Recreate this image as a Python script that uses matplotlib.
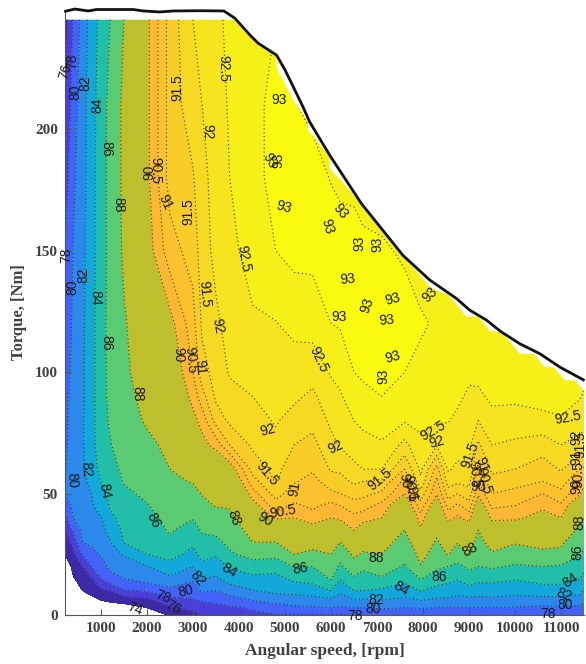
import numpy as np
import matplotlib
matplotlib.use('Agg')
import matplotlib.pyplot as plt
from matplotlib.patches import Polygon

### efficiency map values, one list per speed
torque_rows = [0, 3, 6, 10, 15, 20, 25, 30, 35, 40, 45, 50, 55, 60, 70, 80, 90, 100, 120, 150, 180, 210, 245]
speed_cols = [220, 400, 600, 800, 1000, 1200, 1500, 2000, 2500, 3000, 3200, 3500, 3800, 4300, 4800, 5200, 5600,
              6000, 6200, 6500, 6700, 7100, 7600, 7950, 8300, 8550, 8750, 9000, 9200, 9500, 10000, 10600, 11000,
              11400, 11500]
eff_by_speed = [
    [60, 62, 64, 66, 69, 72, 74, 75, 76, 77.5, 79, 80, 80, 79.9, 79.7, 79.5, 79.3, 79, 78.5, 78, 77, 76, 75],
    [62, 64, 67, 71, 73.8, 74.8, 75.5, 76.7, 78.5, 80, 80.4, 80.6, 80.7, 80.8, 80.8, 80.8, 80.8, 80.6, 80.4, 80.1, 79.6, 79, 78.2],
    [64, 67, 71, 74, 75, 75.9, 78.3, 80, 80.5, 80.9, 81.2, 81.4, 81.6, 81.7, 81.8, 81.8, 81.7, 81.7, 81.6, 81.5, 81.3, 81.2, 80.8],
    [66, 70, 73, 75, 76, 78, 79.4, 80.4, 81, 81.4, 81.8, 82, 82.5, 83, 83.3, 83.3, 83.3, 83.3, 83.3, 83.3, 83.2, 83.2, 83],
    [68, 71, 74, 75.5, 78, 79.2, 80.2, 81, 81.4, 81.9, 82.8, 83.3, 84, 84.6, 85.2, 85.3, 85.3, 85.3, 85.3, 85.2, 85.2, 85, 84.6],
    [70, 72.5, 74.5, 76, 79.4, 80.4, 81.1, 81.9, 82.6, 83.5, 84.2, 84.6, 85, 85.3, 85.9, 86.2, 86.4, 86.5, 86.6, 86.5, 86.6, 86.6, 86],
    [71, 73, 74.8, 77.8, 80, 81, 82.2, 84.1, 84.4, 84.8, 85.2, 85.7, 86.1, 86.4, 86.9, 87.2, 87.4, 87.6, 87.8, 88.3, 88.4, 88.4, 88],
    [72, 74, 75.4, 78.2, 81, 81.9, 84, 84.5, 85, 85.5, 85.9, 86.3, 86.6, 87, 87.6, 88.2, 88.6, 89, 89.4, 89.7, 89.85, 89.85, 89.85],
    [74.3, 75.8, 77.2, 79.4, 81.6, 83.3, 84.7, 85.7, 86.2, 86.5, 86.8, 87.2, 87.7, 88, 88.4, 88.8, 89.1, 89.4, 89.8, 90.8, 91.2, 91.2, 91.2],
    [75.3, 76.6, 77.8, 79, 80.3, 82, 83.4, 84.4, 85.3, 86.1, 86.8, 87.5, 88.1, 88.4, 89, 89.8, 90.2, 90.5, 90.8, 91.2, 91.45, 91.8, 92],
    [76, 76.8, 78.2, 80.3, 82.1, 83.5, 84.6, 85.5, 86.2, 86.8, 87.5, 88.1, 88.4, 88.8, 89.8, 90.2, 90.8, 91.3, 91.6, 91.75, 91.85, 92, 92.2],
    [76.4, 77.4, 78.5, 80, 81.7, 83, 84.2, 85.5, 86.5, 87.3, 88.1, 88.4, 88.7, 89.2, 90.2, 91.2, 91.6, 91.7, 91.9, 92.15, 92.2, 92.3, 92.4],
    [77, 77.7, 79, 81, 82.8, 84.2, 85.7, 86.5, 87.1, 87.7, 88.1, 88.6, 89.1, 89.6, 91, 91.6, 91.85, 92.05, 92.2, 92.4, 92.5, 92.55, 92.6],
    [77.7, 78.2, 80, 81.9, 83.5, 85.2, 86.7, 88, 88.6, 89.1, 89.7, 90.3, 90.8, 91.2, 91.6, 91.8, 92, 92.2, 92.45, 92.65, 92.9, 92.9, 92.8],
    [77.9, 79, 80.8, 82.5, 83.4, 84.8, 86.6, 88, 89.2, 90.1, 90.8, 91.2, 91.55, 91.65, 91.85, 92.05, 92.2, 92.3, 92.48, 93, 93.1, 93.1, 93],
    [77.9, 79.6, 81, 82.7, 84.5, 86.1, 88, 88.7, 89.3, 90, 90.4, 90.75, 91.05, 91.2, 91.5, 91.8, 92.1, 92.25, 92.65, 93.15, 93.1, 93.02, 92.9],
    [77.9, 79.8, 81.1, 83, 84.8, 86, 87.5, 88.8, 89.7, 90.3, 90.6, 90.75, 90.85, 91.05, 91.35, 91.65, 91.9, 92.2, 92.7, 93.15, 93.15, 92.9, 92.9],
    [77.9, 80, 81.5, 84, 86.2, 87, 88, 88.7, 89.3, 90, 90.35, 90.9, 91.25, 91.55, 91.85, 92.1, 92.3, 92.55, 93, 93.2, 92.98, 92.9, 92.9],
    [77.9, 79.8, 81, 82.4, 84.2, 85.7, 86.8, 88, 89.2, 90.15, 90.5, 91, 91.3, 91.6, 92.05, 92.25, 92.45, 92.65, 93.05, 93.2, 92.9, 92.9, 92.9],
    [78, 80, 81.8, 84, 85.7, 87.3, 88.3, 89.2, 90, 90.35, 90.8, 91.2, 91.6, 91.9, 92.2, 92.5, 92.75, 93, 93.2, 93.15, 92.9, 92.8, 92.8],
    [78.1, 80, 81.6, 84, 85.2, 86.4, 87.8, 88.7, 89.6, 90.25, 90.7, 91.15, 91.5, 92, 92.35, 92.6, 92.85, 93.1, 93.2, 93.1, 92.8, 92.8, 92.8],
    [78.4, 80.3, 82, 83.6, 85.8, 87, 88, 88.7, 89.3, 90, 90.35, 90.9, 91.4, 92, 92.45, 92.7, 93, 93.1, 93.2, 93.05, 92.8, 92.8, 92.8],
    [78.2, 80, 81.5, 83, 84.6, 85.8, 86.6, 87.3, 88, 88.7, 89.3, 90, 90.35, 91, 91.85, 92.55, 92.75, 93, 93.15, 92.95, 92.8, 92.8, 92.8],
    [78.3, 80.2, 82, 84.1, 86.1, 87.9, 88.5, 89.2, 89.9, 90.3, 90.8, 91.3, 91.9, 92.1, 92.4, 92.6, 92.75, 92.9, 93.05, 92.8, 92.8, 92.8, 92.8],
    [78.3, 80, 81.6, 83.3, 85, 86.4, 87.3, 87.8, 88.4, 89, 89.5, 90.05, 90.35, 90.8, 92.05, 92.55, 92.7, 92.8, 92.95, 92.8, 92.8, 92.8, 92.8],
    [78.3, 80, 81.6, 83, 84.6, 86, 88.1, 88.9, 89.6, 90.2, 90.7, 91.25, 91.75, 92.05, 92.3, 92.52, 92.7, 92.8, 92.9, 92.8, 92.8, 92.8, 92.8],
    [78.3, 80, 81.3, 82.6, 84.2, 85.6, 87, 88.1, 89, 89.9, 90.4, 91, 91.6, 91.9, 92.2, 92.4, 92.6, 92.7, 92.8, 92.8, 92.8, 92.8, 92.8],
    [78.3, 80, 81.5, 83, 85.4, 86.3, 88, 88.8, 89.6, 90.2, 90.8, 91.3, 91.65, 91.95, 92.15, 92.28, 92.42, 92.6, 92.8, 92.8, 92.8, 92.8, 92.8],
    [78.3, 79.9, 81.2, 83.2, 84.4, 86, 86.8, 87.4, 88, 88.8, 89.5, 90.1, 90.5, 90.85, 91.4, 92, 92.4, 92.65, 92.8, 92.8, 92.8, 92.8, 92.8],
    [78.3, 80, 81.5, 83, 84.6, 86.3, 87.8, 88.7, 89.5, 90.15, 90.6, 91, 91.35, 91.6, 92, 92.35, 92.6, 92.7, 92.8, 92.8, 92.8, 92.8, 92.8],
    [78.4, 79.9, 81.2, 82.7, 84.2, 85.8, 87, 88.2, 89.3, 90.15, 90.5, 90.85, 91.2, 91.5, 91.9, 92.3, 92.6, 92.75, 92.85, 92.85, 92.85, 92.85, 92.85],
    [78.4, 79.6, 81.2, 83.2, 84.7, 86, 87.7, 88.4, 89, 89.7, 90.15, 90.5, 91, 91.25, 91.75, 92.35, 92.7, 92.8, 92.9, 92.9, 92.9, 92.9, 92.9],
    [78.4, 79.7, 81.2, 83.2, 84.7, 85.8, 87.6, 88.3, 89.2, 90, 90.4, 90.85, 91.25, 91.55, 92, 92.45, 92.7, 92.8, 92.9, 92.9, 92.9, 92.9, 92.9],
    [78.5, 79.6, 81, 82.7, 84.1, 85.3, 86.1, 86.8, 87.7, 88.4, 89.3, 90.1, 90.5, 91, 91.85, 92.2, 92.55, 92.7, 92.8, 92.8, 92.8, 92.8, 92.8],
    [78.5, 79.3, 80.4, 81.7, 83.2, 84.6, 85.6, 86.4, 87.3, 88, 88.8, 89.6, 90.25, 90.9, 91.8, 92.15, 92.45, 92.6, 92.75, 92.75, 92.75, 92.75, 92.75],
]
contour_levels = [74, 76, 78, 80, 82, 84, 86, 88, 90, 90.5, 91, 91.5, 92, 92.5, 93, 96]
band_colors = ['#3e2aa6', '#4a3fd8', '#4263f8', '#2c88ea', '#12a9da', '#22bfa8', '#5acb72', '#bdbf2d',
               '#fdb833', '#fbc22e', '#f8cd28', '#f6d923', '#f5e41e', '#f6ef18', '#fafa10']

# maximum torque curve and the edge of the measured area
curve_speed = [232, 435, 725, 906, 1703, 1920, 2283, 2572, 3152, 3674, 3913, 4239, 4420, 4819, 5000, 5181, 5391, 5536,
               5971, 6659, 7565, 8145, 8725, 9014, 9377, 9703, 10108, 10543, 10978, 11485]
curve_torque = [248.5, 249.4, 248.6, 249.2, 249.2, 248.6, 248.2, 248.6, 248.7, 248.6, 245.6, 238.7, 235.3, 230.4,
                224.4, 217.4, 209.2, 203, 189.3, 169.4, 148, 137.9, 130.3, 125.5, 121.4, 116.5, 111.6, 107.5, 102, 96.8]
edge_speed = [220, 220, 3913, 4239, 4456, 4819, 4819, 5174, 5500, 5500, 5971, 5971, 6406, 8145, 8362, 8543, 8942, 9195,
              9450, 9710, 10108, 10398, 10650, 10833, 11087, 11304, 11500, 11500]
edge_torque = [0, 245, 245, 238, 234, 230, 225, 212, 203, 199.6, 188.6, 183.8, 174.9, 135, 133, 132, 122.8, 122.8,
               117, 116.4, 107.5, 107.5, 102, 102, 96.6, 96.6, 92, 0]

# contour labels: text, speed, torque, angle
labels = [
    ('76', 239, 223.5, 75), ('78', 370, 228, 90), ('80', 435, 215, 90), ('82', 652, 219, 90), ('84', 913, 210, 90),
    ('86', 1109, 192, -90), ('88', 1370, 169, -90), ('90', 2043, 182, 90), ('90.5', 2174, 183, -90), ('91', 2391, 170, -65),
    ('91.5', 2891, 166, 90), ('91.5', 2652, 217, 90), ('92', 3304, 199, -90), ('92.5', 3652, 225, -90),
    ('92.5', 4109, 146.5, -80), ('91.5', 3261, 132, -85), ('92', 3544, 119, -80), ('78', 239, 148, 90), ('80', 370, 135, 90),
    ('82', 630, 140, 90), ('84', 891, 130.5, -90), ('86', 1109, 112, -90), ('88', 1783, 91, -90), ('90', 2674, 107, -90),
    ('90.5', 2957, 105, -85), ('91', 3152, 102, -85), ('92', 4630, 76, 15), ('91.5', 4609, 58, -50), ('91', 5218, 52, 80),
    ('90.5', 4957, 42.4, 10), ('90', 4565, 39.5, -30), ('88', 3891, 40, -70), ('86', 2130, 39, -65), ('84', 1087, 51, -80),
    ('82', 674, 60, -85), ('80', 370, 55.5, -85), ('84', 3783, 18.5, -30), ('82', 3109, 15, -50), ('80', 2848, 10, 15),
    ('78', 2348, 7.4, -20), ('76', 2565, 3.3, -30), ('74', 1739, 2.5, -20), ('86', 5326, 19, 10), ('88', 6979, 23.5, 0),
    ('84', 7522, 11, -30), ('82', 6979, 6, 0), ('80', 6913, 2.5, 0), ('78', 6522, -0.4, 0), ('86', 8348, 15.5, 0),
    ('88', 9022, 27, 30), ('92.5', 5739, 105, -65), ('92', 6109, 69, 25), ('91.5', 7065, 56, 40), ('90', 7609, 55, -80),
    ('90.5', 7717, 52, -80), ('91', 7761, 50, -80), ('92.5', 8217, 76, 30), ('92', 8304, 71, 15), ('91.5', 9022, 66, 70),
    ('90.5', 9131, 58, -80), ('91', 9283, 62, -70), ('90', 9196, 52.7, 0), ('90.5', 9326, 55, -75), ('92.5', 11152, 81, 10),
    ('92', 11326, 73, 90), ('91.5', 11413, 70, 90), ('91', 11326, 65, 90), ('90.5', 11370, 58, 90), ('90', 11326, 53, 90),
    ('88', 11392, 38, 90), ('86', 11348, 26, 90), ('84', 11196, 14.4, 35), ('82', 11065, 8.2, -20), ('80', 11087, 4, 0),
    ('78', 10718, 0.4, 0), ('93', 7348, 106, 15), ('93', 7130, 98.3, 90), ('93', 6196, 166, -50), ('93', 5913, 160, -75),
    ('93', 6609, 153, 90), ('93', 7000, 152.6, 90), ('93', 8152, 131.7, 45), ('93', 6370, 138, 5), ('93', 6783, 127.6, 70),
    ('93', 7348, 130, 15), ('93', 6174, 122.6, 0), ('93', 7217, 121.4, 5), ('93', 4870, 212, 0), ('93', 4674, 187, -60),
    ('93', 4848, 187, 90), ('93', 4978, 168, -15),
]

x_ticks = list(range(1000, 12000, 1000))
y_ticks = [0, 50, 100, 150, 200]

fig = plt.figure(figsize=(5.86, 6.64), dpi=100)
ax = fig.add_axes([65 / 586, 49 / 664, 519 / 586, 605 / 664])

eff = np.array(eff_by_speed).T
filled = ax.contourf(speed_cols, torque_rows, eff, levels=contour_levels, colors=band_colors)
lines = ax.contour(speed_cols, torque_rows, eff, levels=contour_levels[:-1], colors='#333333',
                   linewidths=0.8, linestyles=[(0, (1, 2.5))])
edge = Polygon(np.column_stack([edge_speed, edge_torque]), transform=ax.transData, fill=False, edgecolor='none')
ax.add_patch(edge)
filled.set_clip_path(edge)
lines.set_clip_path(edge)

ax.plot(curve_speed, curve_torque, color='#111111', lw=2, clip_on=False, zorder=4)

for text, sp, tq, ang in labels:
    ax.text(sp, tq, text, fontsize=10, family='Liberation Sans', color='#1a1a1a', rotation=ang,
            ha='center', va='center', rotation_mode='anchor', zorder=5, clip_on=False)

ax.set_xlim(220, 11500)
ax.set_ylim(0, 249)
ax.set_xticks(x_ticks)
ax.set_yticks(y_ticks)
ax.tick_params(direction='in', length=4, width=0.8, color='#555555', labelcolor='#404040', pad=5)
for tick in ax.get_xticklabels() + ax.get_yticklabels():
    tick.set_family('Liberation Serif')
    tick.set_fontweight('bold')
    tick.set_fontsize(11)
ax.spines['top'].set_visible(False)
ax.spines['right'].set_visible(False)
ax.spines['left'].set_color('#555555')
ax.spines['bottom'].set_color('#555555')
ax.set_xlabel('Angular speed, [rpm]', family='Liberation Serif', fontweight='bold', fontsize=12.5, color='#404040', labelpad=6)
ax.set_ylabel('Torque, [Nm]', family='Liberation Serif', fontweight='bold', fontsize=12, color='#404040', labelpad=6)

fig.savefig('out.png', dpi=100)
